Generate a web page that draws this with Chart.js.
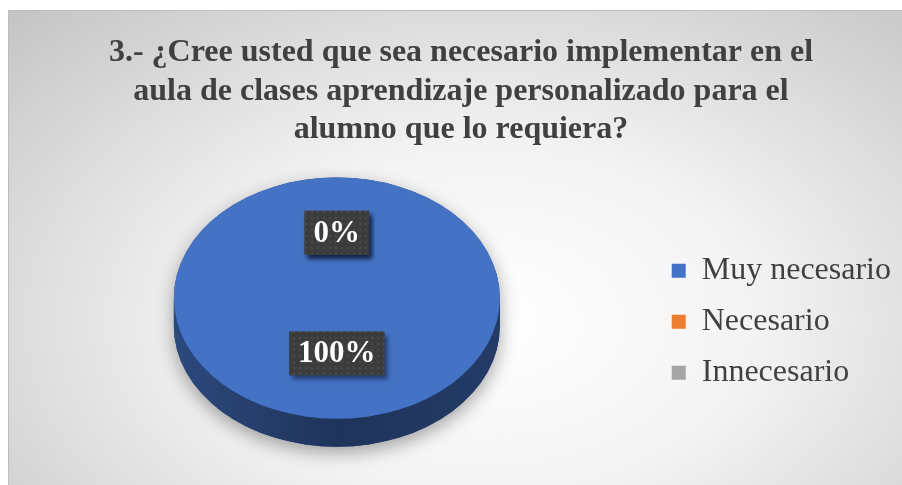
<!DOCTYPE html>
<html lang="es">
<head>
<meta charset="utf-8">
<script src="https://cdn.jsdelivr.net/npm/chart.js@4.4.1/dist/chart.umd.min.js"></script>
<style>
  html, body { margin: 0; padding: 0; background: #fff; overflow: hidden; }
  #marco {
    position: absolute; left: 8px; top: 10px; width: 920px; height: 500px;
    border: 1px solid #bdbdbd;
    background: radial-gradient(ellipse farthest-corner at 52% 62%, #ffffff 0%, #f3f3f3 40%, #c4c4c4 100%);
  }
  #grafico { position: absolute; left: 9px; top: 11px; }
</style>
</head>
<body>
<div id="marco"></div>
<canvas id="grafico" width="893" height="474"></canvas>
<script>
const titulo = [
    '3.- ¿Cree usted que sea necesario implementar en el',
    'aula de clases aprendizaje personalizado para el',
    'alumno que lo requiera?'
];
const categorias = ['Muy necesario', 'Necesario', 'Innecesario'];
const valores = [100, 0, 0];
const colores = ['#4472C4', '#ED7D31', '#A5A5A5'];

const fuente = "'Liberation Serif', 'Times New Roman', serif";
const INCLINACION = 0.74;   // aplastamiento vertical del disco
const GROSOR = 28;          // alto del canto

function oscurecer(hex, f) {
    const n = parseInt(hex.slice(1), 16);
    const r = Math.round(((n >> 16) & 255) * f);
    const g = Math.round(((n >> 8) & 255) * f);
    const b = Math.round((n & 255) * f);
    return `rgb(${r},${g},${b})`;
}

// textura punteada de las etiquetas
const tex = document.createElement('canvas');
tex.width = tex.height = 6;
const t = tex.getContext('2d');
t.fillStyle = '#3c3c3c';
t.fillRect(0, 0, 6, 6);
t.fillStyle = '#4a4a4a';
t.fillRect(2, 2, 2, 2);

const pastel3D = {
    id: 'pastel3D',
    beforeDatasetsDraw(chart) {
        const meta = chart.getDatasetMeta(0);
        const ref = meta.data[0];
        this._activo = false;
        if (!ref) return;
        const { x, y, outerRadius: r } = ref.getProps(['x', 'y', 'outerRadius'], true);
        const yc = y - GROSOR / 2;
        const ry = r * INCLINACION;
        const ctx = chart.ctx;

        // Sombra del disco completo
        ctx.save();
        ctx.shadowColor = 'rgba(0,0,0,0.35)';
        ctx.shadowBlur = 18;
        ctx.shadowOffsetY = 6;
        ctx.fillStyle = '#213e78';
        ctx.beginPath();
        ctx.ellipse(x, yc + GROSOR, r, ry, 0, 0, Math.PI);
        ctx.ellipse(x, yc, r, ry, 0, Math.PI, 2 * Math.PI);
        ctx.closePath();
        ctx.fill();
        ctx.restore();

        // Canto de cada porción (mitad inferior)
        meta.data.forEach((arco, i) => {
            const { startAngle, endAngle } = arco.getProps(['startAngle', 'endAngle'], true);
            const a = Math.max(startAngle, 0);
            const b = Math.min(endAngle, Math.PI);
            if (b <= a) return;
            const color = colores[i];
            const grad = ctx.createLinearGradient(x - r, 0, x + r, 0);
            grad.addColorStop(0, oscurecer(color, 0.64));
            grad.addColorStop(0.5, oscurecer(color, 0.46));
            grad.addColorStop(1, oscurecer(color, 0.52));
            ctx.fillStyle = grad;
            ctx.beginPath();
            ctx.ellipse(x, yc + GROSOR, r, ry, 0, a, b);
            ctx.ellipse(x, yc, r, ry, 0, b, a, true);
            ctx.closePath();
            ctx.fill();
        });

        // Cara superior aplastada
        ctx.save();
        ctx.translate(x, yc);
        ctx.scale(1, INCLINACION);
        ctx.translate(-x, -y);
        this._activo = true;
    },
    afterDatasetsDraw(chart) {
        if (!this._activo) return;
        const ctx = chart.ctx;
        ctx.restore();

        const meta = chart.getDatasetMeta(0);
        const total = valores.reduce((s, v) => s + v, 0);
        const patron = ctx.createPattern(tex, 'repeat');

        meta.data.forEach((arco, i) => {
            const { x, y, startAngle, endAngle, outerRadius: r } =
                arco.getProps(['x', 'y', 'startAngle', 'endAngle', 'outerRadius'], true);
            const yc = y - GROSOR / 2;
            const medio = (startAngle + endAngle) / 2;
            const px = x + Math.cos(medio) * r * 0.5;
            const py = yc - 5 + Math.sin(medio) * r * 0.5 * INCLINACION;
            const texto = Math.round(valores[i] / total * 100) + '%';

            ctx.save();
            ctx.font = `bold 31px ${fuente}`;
            const w = ctx.measureText(texto).width + 18;
            const h = 44;
            ctx.shadowColor = 'rgba(10,20,50,0.55)';
            ctx.shadowBlur = 4;
            ctx.shadowOffsetX = 3;
            ctx.shadowOffsetY = 4;
            ctx.fillStyle = patron;
            ctx.fillRect(px - w / 2, py - h / 2, w, h);
            ctx.shadowColor = 'transparent';
            ctx.fillStyle = '#ffffff';
            ctx.textAlign = 'center';
            ctx.textBaseline = 'middle';
            ctx.fillText(texto, px, py + 1);
            ctx.restore();
        });
    }
};

new Chart(document.getElementById('grafico'), {
    type: 'pie',
    data: {
        labels: categorias,
        datasets: [{
            data: valores,
            backgroundColor: colores,
            borderWidth: 0
        }]
    },
    options: {
        responsive: false,
        animation: false,
        events: [],
        radius: 163,
        layout: { padding: { left: 12, right: 1, top: 0, bottom: 10 } },
        plugins: {
            title: {
                display: true,
                text: titulo,
                color: '#404040',
                font: { family: fuente, size: 32, weight: 'bold', lineHeight: 1.2 },
                padding: { top: 23, bottom: 0 }
            },
            legend: {
                position: 'right',
                fullSize: false,
                title: { display: true, text: ' ', padding: 0, font: { size: 16, lineHeight: 1.2 } },
                labels: {
                    boxWidth: 14,
                    boxHeight: 14,
                    padding: 19,
                    color: '#404040',
                    font: { family: fuente, size: 32 }
                }
            },
            tooltip: { enabled: false }
        }
    },
    plugins: [pastel3D]
});
</script>
</body>
</html>
